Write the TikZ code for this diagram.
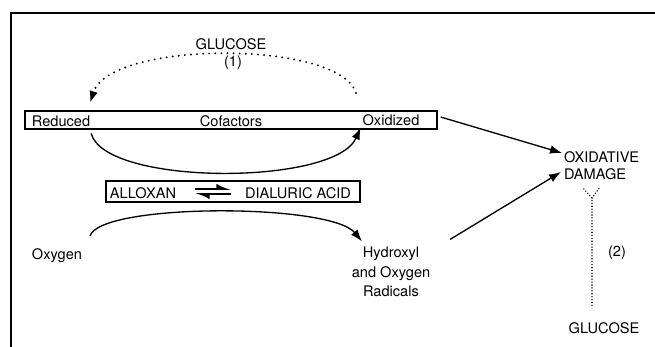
\documentclass[tikz,border=0pt]{standalone}
\usepackage{fontspec}
\setmainfont{TeX Gyre Heros}
\usetikzlibrary{arrows.meta,positioning,calc}

\begin{document}
\begin{tikzpicture}[x=0.0265cm, y=-0.0265cm, line width=1pt,
    txt/.style={font=\fontsize{11}{13}\selectfont, inner sep=1pt},
    box/.style={draw, inner sep=0pt},
    arr/.style={-{Latex[length=9pt,width=6.5pt]}},
    eq/.style={line width=1.2pt, -{Latex[harpoon,length=9pt,width=8pt]}},
    dots/.style={line cap=round, dash pattern=on 0pt off 4.6pt, line width=1.6pt},
    finedots/.style={line cap=round, dash pattern=on 0pt off 2.2pt, line width=1.2pt}]
  \useasboundingbox (0,0) rectangle (655,347);
  % frame
  \draw (655,13) -- (11,13) -- (11,347);
  % cofactors
  \node[box, minimum width=10.92cm, minimum height=0.48cm] (cofbox) at (231,120) {};
  \node[txt] (red) at (61,121) {Reduced};
  \node[txt] (cof) at (231,121) {Cofactors};
  \node[txt] (oxi) at (391,120) {Oxidized};
  % glucose route (1)
  \node[txt] (glu1) at (231,44) {GLUCOSE};
  \node[txt] (one) at (233,63) {(1)};
  \coordinate (gsrc) at (356,93);
  \coordinate (gdst) at (90,103);
  \draw[dots, arr] (gsrc) .. controls (340,40) and (110,40) .. (gdst);
  \draw[arr] ($(red.south east)+(-1,5)$) .. controls (105,186) and (335,186) .. (oxi.south west);
  % alloxan / dialuric acid
  \node[box, minimum width=6.73cm, minimum height=0.56cm] (allbox) at (233,191.5) {};
  \node[txt] (allox) at (143,193) {ALLOXAN};
  \node[txt] (dial) at (298,193) {DIALURIC ACID};
  \draw[eq] ($(allox.east)+(17,-4)$) -- ($(dial.west)+(-12,-4)$);
  \draw[eq] ($(dial.west)+(-12,1)$) -- ($(allox.east)+(17,1)$);
  % oxygen to radicals
  \node[txt] (oxy) at (57,256) {Oxygen};
  \node[txt, align=center, font=\fontsize{11}{14.5}\selectfont] (hyd) at (391,272) {Hydroxyl\\and Oxygen\\Radicals};
  \draw[arr] ($(oxy.north east)+(6,-11)$) .. controls (100,203) and (330,203) .. ($(hyd.north)+(-29,-4)$);
  % damage
  \node[txt, align=left, anchor=west] (dmg) at (562,166) {OXIDATIVE\\DAMAGE};
  \draw[arr] ($(cofbox.east)+(3,-3)$) -- ($(dmg.west)+(0,-13)$);
  \draw[arr] ($(hyd.north east)+(18,-6)$) -- ($(dmg.west)+(-1,6)$);
  % glucose route (2)
  \node[txt] (glu2) at (604,328) {GLUCOSE};
  \node[txt] (two) at (617,253) {(2)};
  \coordinate (fork) at (592,198);
  \draw[finedots] (glu2.north -| fork) ++(0,-15) -- (fork) -- +(-10,-11) (fork) -- +(8,-11);
\end{tikzpicture}
\end{document}
